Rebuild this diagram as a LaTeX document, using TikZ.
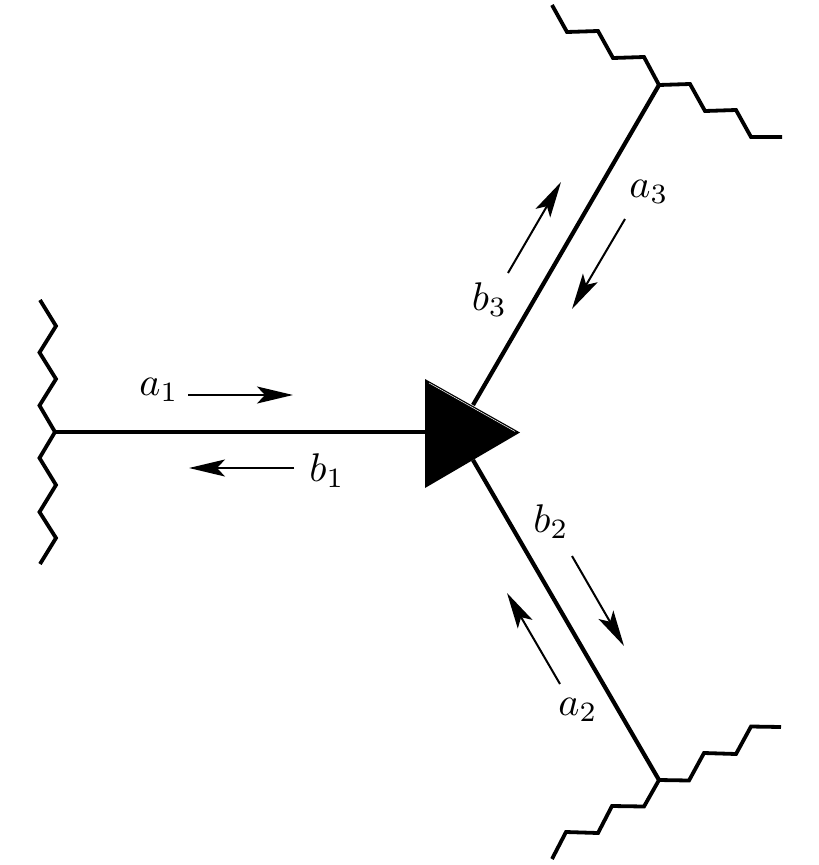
\documentclass[tikz,border=0pt]{standalone}
\usetikzlibrary{arrows.meta}
\tikzset{
  wire/.style={line width=4.2pt,line join=miter,line cap=butt},
  zig/.style={line width=3.8pt,line join=miter,line cap=butt},
  flow/.style={line width=2pt,-{Stealth[length=36pt,width=17pt,inset=8pt]}},
  lab/.style={inner sep=0pt,scale=4.0}
}
\begin{document}
\begin{tikzpicture}[x=1pt,y=-1pt]
\useasboundingbox (0,0) rectangle (819,865);
% junctions
\coordinate (J1) at (55,432);
\coordinate (J2) at (659,780);
\coordinate (J3) at (659,85);
\coordinate (T1) at (425,379);
\coordinate (T2) at (520,432.5);
\coordinate (T3) at (425,488);
\coordinate (C) at (440,432);
% wires
\draw[wire] (J1) -- (C);
\draw[wire] (J2) -- (473,460);
\draw[wire] (J3) -- (473,405);
% triangle
\fill[black] (T1) -- (T2) -- (T3) -- cycle;
\draw[white,line width=0.5pt] (429,383) -- (515,431.5);
% zigzags
\draw[zig] (40,300) -- (56,326) -- (39.5,352.5) -- (56,379) -- (39.5,405.5) -- (J1) -- (39.5,458) -- (56,485) -- (39.5,512) -- (56,538) -- (40,564);
\draw[zig] (552,5) -- (567,32) -- (598,31) -- (613,58) -- (644,57) -- (J3) -- (690,84) -- (705,111) -- (736,110) -- (751,137) -- (782,137);
\draw[zig] (552,859) -- (566,832) -- (598,833) -- (612,806) -- (644,806.5) -- (J2) -- (689,780.5) -- (704,753) -- (736,754) -- (751,726.5) -- (781,727);
% flow arrows
\coordinate (a1s) at (188,395); \coordinate (a1e) at (293,395);
\coordinate (b1s) at (294,468); \coordinate (b1e) at (189,468);
\coordinate (a3s) at (625,219); \coordinate (a3e) at (572,309);
\coordinate (b3s) at (508,273); \coordinate (b3e) at (561,182);
\coordinate (b2s) at (572,556); \coordinate (b2e) at (624,646);
\coordinate (a2s) at (560,684); \coordinate (a2e) at (507,593);
\draw[flow] (a1s) -- (a1e);
\draw[flow] (b1s) -- (b1e);
\draw[flow] (a3s) -- (a3e);
\draw[flow] (b3s) -- (b3e);
\draw[flow] (b2s) -- (b2e);
\draw[flow] (a2s) -- (a2e);
% labels
\node[lab] (la1) at (159,390) {$a_1$};
\node[lab] (lb1) at (327,471) {$b_1$};
\node[lab] (la3) at (649,192) {$a_3$};
\node[lab] (lb3) at (489.5,300) {$b_3$};
\node[lab] (lb2) at (551,522) {$b_2$};
\node[lab] (la2) at (578,710) {$a_2$};
\end{tikzpicture}
\end{document}
